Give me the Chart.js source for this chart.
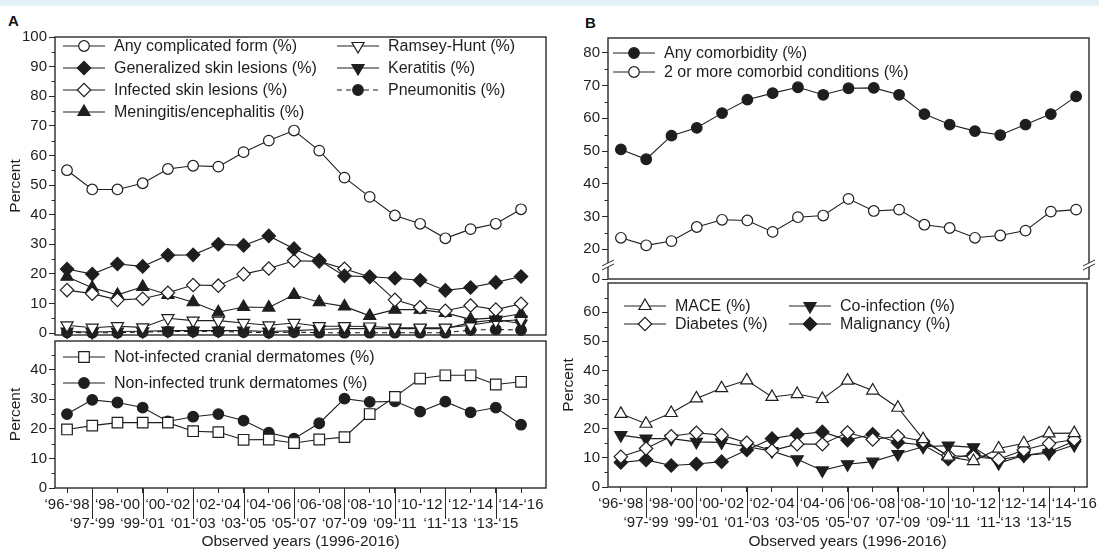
<!DOCTYPE html>
<html>
<head>
<meta charset="utf-8">
<title>Complicated forms and comorbidities</title>
<script src="https://cdn.jsdelivr.net/npm/chart.js@4.4.1/dist/chart.umd.min.js"></script>
<style>
  html, body { margin: 0; padding: 0; overflow: hidden; background: #fff; }
  body { width: 1099px; height: 549px; position: relative; font-family: 'Liberation Sans', Arial, sans-serif; }
  .band { position: absolute; left: 0; top: 0; width: 1099px; height: 6px; background: #e4f2f7; }
  canvas { position: absolute; }
  .panel { position: absolute; font-weight: bold; font-size: 15px; color: #111; }
</style>
</head>
<body>
<div class="band"></div>
<div class="panel" style="left:8px; top:12px">A</div>
<div class="panel" style="left:585px; top:14px">B</div>
<canvas id="a1" width="560" height="346" style="left:0; top:0"></canvas>
<canvas id="a2" width="560" height="221" style="left:0; top:330px"></canvas>
<canvas id="b1" width="546" height="290" style="left:553px; top:0"></canvas>
<canvas id="b2" width="546" height="279" style="left:553px; top:272px"></canvas>
<script>
const categories = ['‘96-‘98', '‘97-‘99', '‘98-‘00', '‘99-‘01', '‘00-‘02', '‘01-‘03', '‘02-‘04',
    '‘03-‘05', '‘04-‘06', '‘05-‘07', '‘06-‘08', '‘07-‘09', '‘08-‘10', '‘09-‘11', '‘10-‘12',
    '‘11-‘13', '‘12-‘14', '‘13-‘15', '‘14-‘16'];

// panel A, complications
const anyComplicated = [55, 48.5, 48.5, 50.6, 55.4, 56.5, 56.2, 61.1, 65, 68.4, 61.6, 52.5, 46, 39.7, 36.9, 32, 35.1, 36.9, 41.8];
const generalizedSkin = [21.6, 19.9, 23.3, 22.5, 26.3, 26.4, 30, 29.6, 32.8, 28.5, 24.6, 19.3, 19, 18.5, 17.8, 14.4, 15.4, 17.1, 19.1];
const infectedSkin = [14.5, 13.3, 11.2, 11.6, 13.6, 16.2, 16, 19.9, 21.8, 24.4, 24.2, 21.7, 18.9, 11.2, 8.7, 7.5, 9.3, 7.9, 9.9];
const meningitis = [19, 15.3, 12.9, 15.6, 12.9, 10.4, 7, 8.8, 8.6, 12.9, 10.4, 9, 5.8, 7.9, 7.9, 6.8, 4.6, 5.1, 6.5];
const ramseyHunt = [2.6, 1.8, 2.3, 1.9, 5, 4.2, 4.2, 3.4, 2.6, 3.4, 2.3, 2.3, 2.2, 1.8, 1.8, 1.8, 2.6, 4, 4.5];
const keratitis = [0.5, 0.3, 0.5, 0.6, 0.8, 0.8, 0.8, 0.8, 0.5, 0.8, 1.2, 1.5, 1.5, 1.5, 1.5, 1.5, 3.5, 4.5, 3.2];
const pneumonitis = [0.2, 0.1, 0.1, 0.3, 0.5, 0.5, 0.5, 0.3, 0.1, 0.3, 0.1, 0.1, 0.1, 0.1, 0.1, 0.1, 1, 1.2, 1];

// panel A, non-infected dermatomes
const cranialDermatomes = [19.8, 21.1, 22.1, 22.1, 22.1, 19.2, 18.9, 16.3, 16.4, 15.2, 16.4, 17.2, 25, 30.8, 37, 38.1, 38.1, 35, 35.9];
const trunkDermatomes = [25, 29.8, 28.9, 27.2, 22.5, 24.1, 25, 22.8, 18.7, 16.7, 21.9, 30.2, 29.1, 29.3, 25.8, 29.2, 25.6, 27.2, 21.4];

// panel B, comorbidity
const anyComorbidity = [50.5, 47.5, 54.7, 57.1, 61.6, 65.7, 67.7, 69.5, 67.2, 69.2, 69.3, 67.2, 61.3, 58.1, 56.1, 54.9, 58.1, 61.3, 66.7];
const twoOrMore = [23.5, 21.2, 22.5, 26.8, 29, 28.8, 25.3, 29.8, 30.3, 35.4, 31.7, 32.1, 27.5, 26.5, 23.5, 24.2, 25.7, 31.5, 32.1];
const mace = [25.1, 21.7, 25.4, 30.4, 33.9, 36.6, 30.9, 31.9, 30.2, 36.5, 33.1, 27.2, 16.4, 10.4, 8.9, 13.2, 15, 18.4, 18.5];
const diabetes = [10.4, 13.2, 17.4, 18.6, 17.8, 15.2, 12.5, 14.7, 14.7, 18.7, 16.3, 17.4, 15.7, 10.8, 10.4, 9.5, 12.7, 14.9, 16.3];
const coInfection = [17.8, 16.6, 16.6, 15.5, 15.3, 13.8, 12.3, 9.5, 5.7, 7.8, 8.7, 11.3, 13.8, 14.2, 13.6, 8.2, 10.8, 11.6, 14.4];
const malignancy = [8.4, 9.3, 7.4, 7.9, 8.7, 12.7, 16.6, 18, 18.9, 16.1, 18.1, 15.3, 14.4, 9.6, 11.3, 9.3, 10.8, 12.1, 15.7];

const ink = '#1e1e1e';
const family = "'Liberation Sans', Arial, sans-serif";
const tickFont = {size: 15, family: family};
const titleFont = {size: 15.5, family: family};

const openCircle = {pointStyle: 'circle', pointRadius: 5.3, pointBackgroundColor: '#fff'};
const dotCircle = {pointStyle: 'circle', pointRadius: 5.3, pointBackgroundColor: ink};
const openDiamond = {pointStyle: 'rectRot', pointRadius: 6.7, pointBackgroundColor: '#fff'};
const dotDiamond = {pointStyle: 'rectRot', pointRadius: 6.7, pointBackgroundColor: ink};
const openTriangle = {pointStyle: 'triangle', pointRadius: 7, pointBackgroundColor: '#fff'};
const dotTriangle = {pointStyle: 'triangle', pointRadius: 7, pointBackgroundColor: ink};
const openDown = {pointStyle: 'triangle', pointRadius: 7, pointRotation: 180, pointBackgroundColor: '#fff'};
const dotDown = {pointStyle: 'triangle', pointRadius: 7, pointRotation: 180, pointBackgroundColor: ink};
const openSquare = {pointStyle: 'rect', pointRadius: 7.5, pointBackgroundColor: '#fff'};

function series(label, values, marker, extra) {
    return Object.assign({
        label: label,
        data: values.map((v, i) => ({x: i, y: v})),
        borderColor: ink,
        borderWidth: 1.1,
        pointBorderColor: ink,
        pointBorderWidth: 1.2,
        pointHoverRadius: marker.pointRadius,
        tension: 0,
        clip: 8
    }, marker, extra || {});
}

// legend drawn inside the plot, using each dataset's own line and marker
const boxLegend = {
    id: 'boxLegend',
    afterDraw(chart, args, opts) {
        const ctx = chart.ctx;
        ctx.save();
        ctx.font = '16px ' + family;
        ctx.textBaseline = 'middle';
        (opts.items || []).forEach(it => {
            const ds = chart.data.datasets[it.index];
            ctx.strokeStyle = ds.borderColor;
            ctx.lineWidth = ds.borderWidth;
            ctx.setLineDash(ds.borderDash || []);
            ctx.beginPath();
            ctx.moveTo(it.x, it.y);
            ctx.lineTo(it.x + 42, it.y);
            ctx.stroke();
            ctx.setLineDash([]);
            ctx.fillStyle = ds.pointBackgroundColor;
            ctx.strokeStyle = ds.pointBorderColor;
            ctx.lineWidth = ds.pointBorderWidth;
            Chart.helpers.drawPoint(ctx, {
                pointStyle: ds.pointStyle,
                radius: ds.pointRadius,
                rotation: ds.pointRotation || 0,
                borderWidth: ds.pointBorderWidth
            }, it.x + 21, it.y);
            ctx.fillStyle = ink;
            ctx.fillText(ds.label, it.x + 51, it.y + 1);
        });
        ctx.restore();
    }
};

// box, minor ticks, staggered long ticks and axis breaks
const frame = {
    id: 'frame',
    afterDraw(chart, args, opts) {
        const ctx = chart.ctx;
        const a = chart.chartArea;
        const y = chart.scales.y;
        ctx.save();
        ctx.strokeStyle = '#2a2a2a';
        ctx.lineWidth = 1.4;
        ctx.strokeRect(a.left, a.top, a.right - a.left, a.bottom - a.top);
        ctx.lineWidth = 1;
        const from = opts.minorFrom !== undefined ? opts.minorFrom : -Infinity;
        for (let v = Math.ceil(y.min / 5) * 5; v <= y.max; v += 5) {
            if (v % 10 === 0 || v < from) continue;
            const py = Math.round(y.getPixelForValue(v)) + 0.5;
            ctx.beginPath();
            ctx.moveTo(a.left - 3.5, py);
            ctx.lineTo(a.left, py);
            ctx.stroke();
        }
        if (opts.longTicks) {
            const x = chart.scales.x;
            for (let i = 1; i < categories.length; i += 2) {
                const px = Math.round(x.getPixelForValue(i)) + 0.5;
                ctx.beginPath();
                ctx.moveTo(px, a.bottom);
                ctx.lineTo(px, a.bottom + 31);
                ctx.stroke();
            }
        }
        if (opts.breakAt !== undefined) {
            const by = y.getPixelForValue(opts.breakAt);
            [a.left, a.right].forEach(bx => {
                ctx.fillStyle = '#fff';
                ctx.beginPath();
                ctx.moveTo(bx - 6, by + 5);
                ctx.lineTo(bx + 6, by - 1);
                ctx.lineTo(bx + 6, by - 5);
                ctx.lineTo(bx - 6, by + 1);
                ctx.closePath();
                ctx.fill();
                ctx.beginPath();
                ctx.moveTo(bx - 6, by + 5);
                ctx.lineTo(bx + 6, by - 1);
                ctx.moveTo(bx - 6, by + 1);
                ctx.lineTo(bx + 6, by - 5);
                ctx.stroke();
            });
        }
        ctx.restore();
    }
};

function yAxis(min, max, title, extra) {
    return Object.assign({
        type: 'linear',
        min: min,
        max: max,
        afterFit(s) { s.width = 55; },
        border: {display: false},
        grid: {drawOnChartArea: false, tickLength: 6, color: '#2a2a2a', lineWidth: 1},
        ticks: {stepSize: 10, includeBounds: false, padding: 2, color: ink, font: tickFont},
        title: {display: !!title, text: title, color: ink, font: titleFont, padding: {top: 6, bottom: 0}}
    }, extra || {});
}

function xAxis(min, max, shown, height) {
    return {
        type: 'linear',
        min: min,
        max: max,
        display: shown,
        afterFit(s) { s.height = height; },
        border: {display: false},
        grid: {drawOnChartArea: false, tickLength: 5, color: '#2a2a2a', lineWidth: 1},
        ticks: {
            stepSize: 1, includeBounds: false, autoSkip: false, maxRotation: 0, minRotation: 0,
            padding: 2, color: ink, font: {size: 15, family: family, lineHeight: 1.27},
            callback: v => (Number.isInteger(v) && categories[v]) ? (v % 2 ? ['', categories[v]] : categories[v]) : ''
        },
        title: {display: true, text: 'Observed years (1996-2016)', color: ink, font: titleFont, padding: {top: 0, bottom: 0}}
    };
}

function makeChart(id, datasets, scales, padding, frameOpts, legendItems) {
    return new Chart(document.getElementById(id), {
        type: 'line',
        data: {datasets: datasets},
        options: {
            responsive: false,
            animation: false,
            events: [],
            layout: {padding: padding},
            scales: scales,
            plugins: {
                legend: {display: false},
                tooltip: {enabled: false},
                frame: frameOpts,
                boxLegend: {items: legendItems}
            }
        },
        plugins: [frame, boxLegend]
    });
}

const aMin = -0.476, aMax = 18.99;
const bMin = -0.51, bMax = 18.51;
const bTopMin = 10.91;

makeChart('a1', [
    series('Any complicated form (%)', anyComplicated, openCircle),
    series('Generalized skin lesions (%)', generalizedSkin, dotDiamond),
    series('Infected skin lesions (%)', infectedSkin, openDiamond),
    series('Meningitis/encephalitis (%)', meningitis, dotTriangle),
    series('Ramsey-Hunt (%)', ramseyHunt, openDown),
    series('Keratitis (%)', keratitis, dotDown),
    series('Pneumonitis (%)', pneumonitis, dotCircle, {borderDash: [5, 4]})
], {
    x: xAxis(aMin, aMax, false, 0),
    y: yAxis(-0.67, 100, 'Percent')
}, {left: 0, top: 37, right: 14, bottom: 7}, {}, [
    {index: 0, x: 63, y: 46}, {index: 1, x: 63, y: 68},
    {index: 2, x: 63, y: 90}, {index: 3, x: 63, y: 112},
    {index: 4, x: 337, y: 46}, {index: 5, x: 337, y: 68}, {index: 6, x: 337, y: 90}
]);

makeChart('a2', [
    series('Not-infected cranial dermatomes (%)', cranialDermatomes, openSquare),
    series('Non-infected trunk dermatomes (%)', trunkDermatomes, dotCircle)
], {
    x: xAxis(aMin, aMax, true, 63),
    y: yAxis(0, 49.7, 'Percent')
}, {left: 0, top: 9, right: 14, bottom: 0}, {longTicks: true}, [
    {index: 0, x: 63, y: 27}, {index: 1, x: 63, y: 53}
]);

makeChart('b1', [
    series('Any comorbidity (%)', anyComorbidity, dotCircle),
    series('2 or more comorbid conditions (%)', twoOrMore, openCircle)
], {
    x: xAxis(bMin, bMax, false, 0),
    y: yAxis(bTopMin, 84.55, '', {
        afterBuildTicks(s) { s.ticks = [{value: bTopMin}].concat(s.ticks.filter(t => t.value >= 20)); },
        ticks: {stepSize: 10, includeBounds: false, padding: 2, color: ink, font: tickFont,
            callback: v => v === bTopMin ? '0' : v}
    })
}, {left: 0, top: 38, right: 10, bottom: 9}, {minorFrom: 20, breakAt: 15.2}, [
    {index: 0, x: 60, y: 53}, {index: 1, x: 60, y: 72}
]);

makeChart('b2', [
    series('MACE (%)', mace, openTriangle),
    series('Diabetes (%)', diabetes, openDiamond),
    series('Co-infection (%)', coInfection, dotDown),
    series('Malignancy (%)', malignancy, dotDiamond)
], {
    x: xAxis(bMin, bMax, true, 64),
    y: yAxis(0, 70, 'Percent', {
        afterBuildTicks(s) { s.ticks = s.ticks.filter(t => t.value < 70); }
    })
}, {left: 0, top: 9, right: 10, bottom: 0}, {longTicks: true}, [
    {index: 0, x: 71, y: 34}, {index: 1, x: 71, y: 52},
    {index: 2, x: 236, y: 34}, {index: 3, x: 236, y: 52}
]);
</script>
</body>
</html>
